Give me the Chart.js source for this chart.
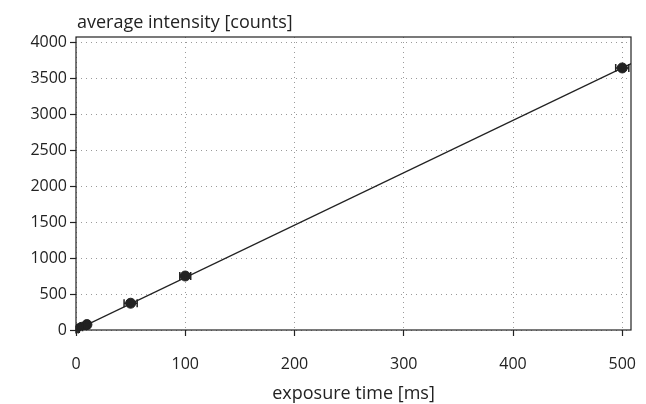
<!DOCTYPE html>
<html>
<head>
<meta charset="utf-8">
<script src="https://cdn.jsdelivr.net/npm/chart.js@4.4.0/dist/chart.umd.min.js"></script>
<style>
  html, body { margin: 0; padding: 0; background: #fff; }
  #wrap { width: 646px; height: 404px; }
</style>
</head>
<body>
<div id="wrap"><canvas id="plot"></canvas></div>
<script>
// measured points
let exposure = [1, 2, 5, 10, 50, 100, 500];
let intensity = [8, 15, 37, 75, 372, 750, 3640];
let exposureErr = [1, 1, 1, 2, 6, 5, 6];
let intensityErr = [5, 5, 8, 10, 15, 20, 40];
// fitted line at both ends
let fitX = [0, 510];
let fitY = [0, 3712];
let xTicks = [0, 100, 200, 300, 400, 500];
let yTicks = [0, 500, 1000, 1500, 2000, 2500, 3000, 3500, 4000];

const FONT = "'Open Sans', 'DejaVu Sans', sans-serif";
const INK = '#222';

let errorBars = {
    id: 'errorBars',
    afterDatasetsDraw(chart){
        let ctx = chart.ctx;
        let xs = chart.scales.x, ys = chart.scales.y;
        ctx.save();
        ctx.strokeStyle = INK;
        ctx.lineWidth = 1.5;
        for(let i=0;i<exposure.length;i++){
            let x0 = xs.getPixelForValue(exposure[i]-exposureErr[i]);
            let x1 = xs.getPixelForValue(exposure[i]+exposureErr[i]);
            let y0 = ys.getPixelForValue(intensity[i]-intensityErr[i]);
            let y1 = ys.getPixelForValue(intensity[i]+intensityErr[i]);
            let xc = xs.getPixelForValue(exposure[i]);
            let yc = ys.getPixelForValue(intensity[i]);
            ctx.beginPath();
            ctx.moveTo(x0, yc); ctx.lineTo(x1, yc);
            ctx.moveTo(x0, yc-4); ctx.lineTo(x0, yc+4);
            ctx.moveTo(x1, yc-4); ctx.lineTo(x1, yc+4);
            ctx.moveTo(xc, y0); ctx.lineTo(xc, y1);
            ctx.stroke();
        }
        ctx.restore();
    }
};

let frame = {
    id: 'frame',
    afterDraw(chart){
        let ctx = chart.ctx;
        let a = chart.chartArea;
        ctx.save();
        ctx.strokeStyle = INK;
        ctx.lineWidth = 1.2;
        ctx.strokeRect(a.left, a.top, a.right-a.left, a.bottom-a.top);
        ctx.fillStyle = INK;
        ctx.font = '18px ' + FONT;
        ctx.textBaseline = 'alphabetic';
        ctx.textAlign = 'left';
        ctx.fillText('average intensity [counts]', a.left + 1, 28);
        ctx.restore();
    }
};

function drawChart(){
    let cxt = document.getElementById('plot');
    let _data = {
        datasets:[
            {
                label:'fit',
                type:'line',
                data: fitX.map((x,i)=>({x:x, y:fitY[i]})),
                borderColor: INK,
                borderWidth: 1.3,
                pointRadius: 0,
                fill: false,
                order: 2
            },
            {
                label:'measured',
                type:'scatter',
                data: exposure.map((x,i)=>({x:x, y:intensity[i]})),
                backgroundColor: INK,
                borderColor: INK,
                pointRadius: 5,
                order: 1
            }
        ]
    };
    let gridStyle = {
        color: '#9a9a9a',
        lineWidth: 1,
        drawTicks: true,
        tickLength: 6,
        tickColor: INK,
        tickWidth: 1.2,
        tickBorderDash: []
    };
    let _options = {
        responsive: true,
        maintainAspectRatio: false,
        animation: false,
        layout: { padding: { left: 0, right: 15, top: 37, bottom: 0 } },
        plugins: { legend: { display:false }, tooltip: { enabled:false } },
        scales: {
            x: {
                type: 'linear',
                min: 0,
                max: 508,
                afterBuildTicks(scale){ scale.ticks = xTicks.map(v=>({value:v})); },
                afterFit(scale){ scale.height = 74; scale.paddingLeft = 0; scale.paddingRight = 0; },
                grid: gridStyle,
                border: { display:false, dash:[1,4] },
                ticks: { color: INK, font:{ family: FONT, size: 16 }, padding: 19, maxRotation: 0,
                         callback: v => String(v) },
                title: { display:true, text:'exposure time [ms]', color: INK,
                         font:{ family: FONT, size: 18 }, padding:{ top: 4, bottom: -1 } }
            },
            y: {
                type: 'linear',
                min: 0,
                max: 4070,
                afterBuildTicks(scale){ scale.ticks = yTicks.map(v=>({value:v})); },
                afterFit(scale){ scale.width = 76; },
                grid: gridStyle,
                border: { display:false, dash:[1,4] },
                ticks: { color: INK, font:{ family: FONT, size: 16 }, padding: 3,
                         callback: v => String(v) }
            }
        }
    };
    new Chart(cxt, { type:'scatter', data:_data, options:_options, plugins:[errorBars, frame] });
}
drawChart();
</script>
</body>
</html>
